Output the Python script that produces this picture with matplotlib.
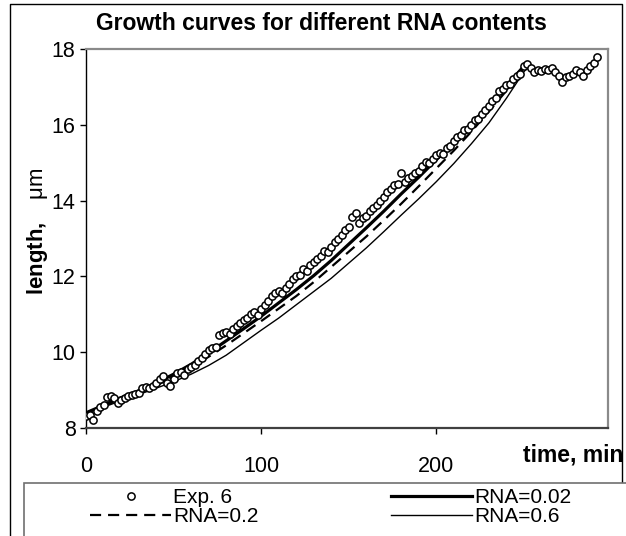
import numpy as np
import matplotlib
matplotlib.use("Agg")
import matplotlib.pyplot as plt
from matplotlib.patches import Rectangle
from matplotlib.lines import Line2D

plt.rcParams['font.family'] = ['Liberation Sans', 'DejaVu Sans']
plt.rcParams['mathtext.fontset'] = 'custom'
plt.rcParams['mathtext.bf'] = 'Liberation Sans:bold'
plt.rcParams['mathtext.rm'] = 'Liberation Sans'
plt.rcParams['lines.scale_dashes'] = False

# ---- data ----
exp_t = list(range(0, 293, 2))
exp_len = [8.32, 8.35, 8.22, 8.45, 8.55, 8.62, 8.82, 8.85, 8.78, 8.65,
           8.75, 8.80, 8.85, 8.88, 8.90, 8.92, 9.05, 9.08, 9.05, 9.12,
           9.18, 9.30, 9.38, 9.20, 9.12, 9.28, 9.45, 9.48, 9.40, 9.55,
           9.62, 9.65, 9.78, 9.85, 9.95, 10.05, 10.10, 10.15, 10.45, 10.50,
           10.52, 10.48, 10.62, 10.70, 10.78, 10.85, 10.90, 11.00, 11.05, 10.98,
           11.15, 11.25, 11.35, 11.48, 11.55, 11.62, 11.55, 11.70, 11.80, 11.92,
           12.00, 12.05, 12.20, 12.15, 12.30, 12.38, 12.45, 12.55, 12.68, 12.65,
           12.78, 12.92, 13.00, 13.10, 13.22, 13.30, 13.58, 13.68, 13.40, 13.55,
           13.60, 13.72, 13.80, 13.88, 14.00, 14.10, 14.22, 14.30, 14.42, 14.45,
           14.72, 14.50, 14.60, 14.65, 14.72, 14.78, 14.92, 15.02, 14.98, 15.10,
           15.20, 15.25, 15.22, 15.38, 15.45, 15.58, 15.68, 15.72, 15.85, 15.90,
           16.00, 16.12, 16.15, 16.28, 16.40, 16.50, 16.62, 16.70, 16.88, 16.95,
           17.05, 17.08, 17.20, 17.30, 17.35, 17.55, 17.60, 17.50, 17.40, 17.45,
           17.42, 17.48, 17.45, 17.50, 17.40, 17.30, 17.12, 17.25, 17.30, 17.35,
           17.45, 17.40, 17.30, 17.45, 17.55, 17.62, 17.80]

model_t = [0, 10, 20, 30, 40, 50, 60, 70, 80, 90, 100, 110, 120, 130, 140,
           150, 160, 170, 180, 190, 200, 210, 220, 230, 240, 250, 252]
rna_002 = [8.40, 8.60, 8.80, 8.98, 9.18, 9.42, 9.68, 9.98, 10.30, 10.62,
           10.95, 11.30, 11.65, 12.02, 12.42, 12.85, 13.28, 13.72, 14.18, 14.62,
           15.08, 15.55, 16.02, 16.52, 17.02, 17.55, 17.60]
rna_02 = [8.40, 8.58, 8.76, 8.94, 9.12, 9.35, 9.60, 9.88, 10.18, 10.50,
          10.82, 11.15, 11.48, 11.85, 12.25, 12.65, 13.05, 13.48, 13.92, 14.38,
          14.85, 15.32, 15.82, 16.35, 16.90, 17.50, 17.55]
rna_06 = [8.40, 8.55, 8.72, 8.88, 9.05, 9.22, 9.42, 9.65, 9.92, 10.25,
          10.58, 10.90, 11.25, 11.60, 11.95, 12.35, 12.75, 13.18, 13.62, 14.05,
          14.50, 14.98, 15.50, 16.05, 16.70, 17.40, 17.50]

x_ticks = [0, 100, 200]
y_ticks = [8, 10, 12, 14, 16, 18]

W, H = 626, 536
fig = plt.figure(figsize=(W / 100, H / 100), dpi=100)

def fx(px):
    return px / W

def fy(py):
    return 1 - py / H

ax = fig.add_axes([fx(86), fy(428), fx(608) - fx(86), fy(49) - fy(428)])

l002, = ax.plot(model_t, rna_002, color='black', lw=2.3, zorder=3)
l02, = ax.plot(model_t, rna_02, color='black', lw=1.6, dashes=(8, 5), zorder=3)
l06, = ax.plot(model_t, rna_06, color='black', lw=1.0, zorder=3)
lexp, = ax.plot(exp_t, exp_len, ls='none', marker='o', ms=5.2, mfc='white',
                mec='black', mew=1.1, zorder=4)

ax.set_xlim(0, 298)
ax.set_ylim(8, 18)
ax.set_xticks(x_ticks)
ax.set_yticks(y_ticks)
ax.tick_params(axis='both', direction='out', length=4.5, width=1, color='black',
               labelsize=15.5, labelcolor='black')
ax.tick_params(axis='x', pad=16)
ax.tick_params(axis='y', pad=3)

for side in ['top', 'right']:
    ax.spines[side].set_color('#8a8a8a')
    ax.spines[side].set_linewidth(1.6)
ax.spines['left'].set_color('black')
ax.spines['left'].set_linewidth(1.0)
ax.spines['bottom'].set_color('#404040')
ax.spines['bottom'].set_linewidth(1.6)

fig.text(fx(37), fy(231), r'$\mathbf{length,}$   μm', rotation=90,
         ha='center', va='center', fontsize=16)

fig.text(fx(321), fy(23), 'Growth curves for different RNA contents',
         ha='center', va='center', fontsize=16.5, fontweight='bold')
fig.text(fx(523), fy(455), 'time, min', ha='left', va='center',
         fontsize=16.5, fontweight='bold')

# outer frame
frame = Line2D([fx(10), fx(10), fx(622), fx(622)],
               [fy(540), fy(4), fy(4), fy(483)],
               transform=fig.transFigure, color='black', lw=1.0)
fig.add_artist(frame)

# legend box
box = Rectangle((fx(24), fy(540)), fx(640) - fx(24), fy(483) - fy(540),
                transform=fig.transFigure, fill=True, facecolor='white',
                edgecolor='#707070', lw=1.2, zorder=5)
fig.add_artist(box)

leg = fig.legend([lexp, l02, l002, l06], ['Exp. 6', 'RNA=0.2', 'RNA=0.02', 'RNA=0.6'],
                 ncol=2, loc='upper left', bbox_to_anchor=(fx(90), fy(488)),
                 frameon=False, fontsize=15, handlelength=3.9, handletextpad=0.1,
                 columnspacing=6.36, labelspacing=0.02, borderpad=0, borderaxespad=0)
leg.set_zorder(6)

fig.savefig('out.png', dpi=100)
